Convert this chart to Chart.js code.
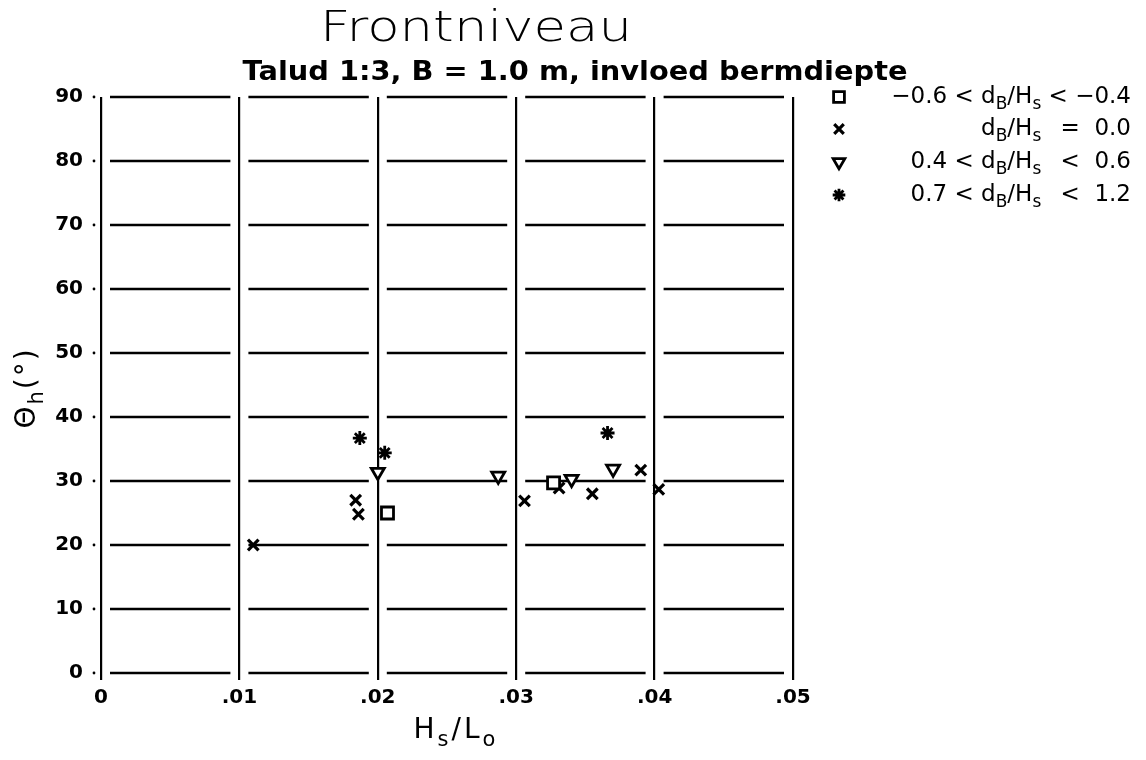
<!DOCTYPE html>
<html>
<head>
<meta charset="utf-8">
<title>Frontniveau</title>
<script src="https://cdn.jsdelivr.net/npm/chart.js@4.4.1/dist/chart.umd.min.js"></script>
<style>
  html, body { margin: 0; padding: 0; background: #fff; }
  canvas { display: block; }
</style>
</head>
<body>
<canvas id="chart" width="1146" height="760"></canvas>
<script>
// measured points, Hs/Lo against wave angle at the front (degrees)
const squareX = [0.0207, 0.0327];
const squareY = [25.0, 29.7];

const crossX = [0.0110, 0.0184, 0.0186, 0.0306, 0.0331, 0.0355, 0.0390, 0.0403];
const crossY = [20.0, 27.0, 24.8, 26.9, 28.9, 28.0, 31.7, 28.7];

const triangleX = [0.0200, 0.0287, 0.0340, 0.0370];
const triangleY = [31.4, 30.8, 30.3, 31.9];

const starX = [0.0187, 0.0205, 0.0366];
const starY = [36.7, 34.4, 37.5];

const xTicks = [0, 0.01, 0.02, 0.03, 0.04, 0.05];
const xTickLabels = ['0', '.01', '.02', '.03', '.04', '.05'];
const yTicks = [0, 10, 20, 30, 40, 50, 60, 70, 80, 90];

function points(xs, ys) {
    return xs.map((x, i) => ({ x: x, y: ys[i] }));
}

const INK = '#000';
const tickFont = { family: '"DejaVu Sans"', size: 20, weight: 'bold' };

// horizontal grid lines, broken around every vertical line
const brokenGrid = {
    id: 'brokenGrid',
    beforeDraw(chart) {
        const ctx = chart.ctx;
        ctx.save();
        ctx.fillStyle = '#fff';
        ctx.fillRect(0, 0, chart.width, chart.height);
        ctx.restore();
    },
    beforeDatasetsDraw(chart) {
        const ctx = chart.ctx;
        const xs = chart.scales.x;
        const ys = chart.scales.y;
        const gap = 9;
        ctx.save();
        ctx.strokeStyle = INK;
        ctx.fillStyle = INK;
        ctx.lineWidth = 2.6;
        yTicks.forEach(v => {
            const py = Math.round(ys.getPixelForValue(v));
            for (let i = 0; i < xTicks.length - 1; i++) {
                const a = xs.getPixelForValue(xTicks[i]) + gap;
                const b = xs.getPixelForValue(xTicks[i + 1]) - gap;
                ctx.beginPath();
                ctx.moveTo(a, py);
                ctx.lineTo(b, py);
                ctx.stroke();
            }
            // little dot between tick label and axis
            ctx.beginPath();
            ctx.arc(ys.right - 7, py, 1.4, 0, Math.PI * 2);
            ctx.fill();
        });
        ctx.restore();
    }
};

// draws a run of text pieces, some of them as subscripts
function drawRich(ctx, parts, x, y, size) {
    let cx = x;
    parts.forEach(p => {
        if (p.sub) {
            ctx.font = Math.round(size * 0.75) + 'px "DejaVu Sans"';
            ctx.fillText(p.t, cx, y + size * 0.34);
        } else {
            ctx.font = size + 'px "DejaVu Sans"';
            ctx.fillText(p.t, cx, y);
        }
        cx += ctx.measureText(p.t).width;
    });
    return cx - x;
}

function richWidth(ctx, parts, size) {
    let w = 0;
    parts.forEach(p => {
        ctx.font = (p.sub ? Math.round(size * 0.75) : size) + 'px "DejaVu Sans"';
        w += ctx.measureText(p.t).width;
    });
    return w;
}

// centred text stretched sideways to a given width
function fitText(ctx, text, font, cx, y, width) {
    ctx.save();
    ctx.font = font;
    const w = ctx.measureText(text).width;
    ctx.translate(cx, y);
    ctx.scale(width / w, 1);
    ctx.textAlign = 'center';
    ctx.fillText(text, 0, 0);
    ctx.restore();
}

const ratio = [{ t: 'd' }, { t: 'B', sub: true }, { t: '/H' }, { t: 's', sub: true }];

const legendRows = [
    { left: '\u22120.6 < ', right: ' < \u22120.4', ds: 0, y: 97 },
    { left: '', right: ' =  0.0', ds: 1, y: 129 },
    { left: '0.4 < ', right: ' <  0.6', ds: 2, y: 162 },
    { left: '0.7 < ', right: ' <  1.2', ds: 3, y: 195 }
];

const titlesAndLegend = {
    id: 'titlesAndLegend',
    afterDraw(chart) {
        const ctx = chart.ctx;
        ctx.save();
        ctx.fillStyle = INK;
        ctx.textBaseline = 'middle';

        fitText(ctx, 'Frontniveau', '200 42px "DejaVu Sans"', 476, 30, 312);
        fitText(ctx, 'Talud 1:3, B = 1.0 m, invloed bermdiepte', 'bold 26px "DejaVu Sans"', 575, 73, 665);

        // legend
        const size = 23;
        const rightEdge = 1131;
        const ratioW = richWidth(ctx, ratio, size);
        ctx.font = size + 'px "DejaVu Sans"';
        const midX = rightEdge - ratioW - ctx.measureText(legendRows[0].right).width;
        legendRows.forEach(row => {
            ctx.textAlign = 'right';
            ctx.font = size + 'px "DejaVu Sans"';
            ctx.fillText(row.left, midX, row.y);
            ctx.textAlign = 'left';
            drawRich(ctx, ratio, midX, row.y, size);
            ctx.textAlign = 'right';
            ctx.font = size + 'px "DejaVu Sans"';
            ctx.fillText(row.right, rightEdge, row.y);

            const ds = chart.data.datasets[row.ds];
            ctx.strokeStyle = INK;
            ctx.fillStyle = ds.pointBackgroundColor;
            ctx.lineWidth = ds.pointBorderWidth;
            Chart.helpers.drawPoint(ctx, {
                pointStyle: ds.pointStyle,
                rotation: ds.pointRotation || 0,
                radius: ds.pointRadius * 0.9,
                borderWidth: ds.pointBorderWidth
            }, 839, row.y);
            ctx.fillStyle = INK;
        });

        // axis titles
        const xParts = [{ t: 'H' }, { t: 's', sub: true }, { t: '/L' }, { t: 'o', sub: true }];
        ctx.textAlign = 'left';
        ctx.letterSpacing = '3px';
        const xw = richWidth(ctx, xParts, 28);
        drawRich(ctx, xParts, 456 - xw / 2, 731, 28);

        const yParts = [{ t: '\u0398' }, { t: 'h', sub: true }, { t: '(\u00b0)' }];
        ctx.letterSpacing = '2px';
        ctx.translate(28, 388);
        ctx.rotate(-Math.PI / 2);
        const yw = richWidth(ctx, yParts, 28);
        drawRich(ctx, yParts, -yw / 2, 0, 28);
        ctx.restore();
    }
};

function series(label, xs, ys, style) {
    return Object.assign({
        label: label,
        data: points(xs, ys),
        borderColor: INK,
        pointBorderColor: INK,
        showLine: false
    }, style);
}

new Chart(document.getElementById('chart'), {
    type: 'scatter',
    data: {
        datasets: [
            series('-0.6 < dB/Hs < -0.4', squareX, squareY, {
                pointStyle: 'rect', pointRadius: 8.5, pointBorderWidth: 2.8,
                pointBackgroundColor: '#fff'
            }),
            series('dB/Hs = 0.0', crossX, crossY, {
                pointStyle: 'crossRot', pointRadius: 7.5, pointBorderWidth: 3.2,
                pointBackgroundColor: INK
            }),
            series('0.4 < dB/Hs < 0.6', triangleX, triangleY, {
                pointStyle: 'triangle', pointRotation: 180, pointRadius: 7.5, pointBorderWidth: 2.8,
                pointBackgroundColor: '#fff'
            }),
            series('0.7 < dB/Hs < 1.2', starX, starY, {
                pointStyle: 'star', pointRadius: 7, pointBorderWidth: 2.8,
                pointBackgroundColor: INK
            })
        ]
    },
    options: {
        responsive: false,
        animation: false,
        layout: {
            padding: { top: 97, right: 353, bottom: 0, left: 0 }
        },
        plugins: {
            legend: { display: false },
            tooltip: { enabled: false }
        },
        scales: {
            x: {
                type: 'linear',
                min: 0,
                max: 0.05,
                afterFit: scale => { scale.height = 87; },
                afterBuildTicks: scale => {
                    scale.ticks = xTicks.map(v => ({ value: v }));
                },
                border: { display: false },
                grid: {
                    color: INK,
                    lineWidth: 2.2,
                    drawTicks: true,
                    tickLength: 7
                },
                ticks: {
                    color: INK,
                    font: tickFont,
                    padding: 6,
                    maxRotation: 0,
                    callback: (v, i) => xTickLabels[i]
                }
            },
            y: {
                min: 0,
                max: 90,
                afterFit: scale => { scale.width = 101; },
                afterBuildTicks: scale => {
                    scale.ticks = yTicks.map(v => ({ value: v }));
                },
                border: { display: false },
                grid: { display: false, drawTicks: false },
                ticks: {
                    color: INK,
                    font: tickFont,
                    padding: 18
                }
            }
        }
    },
    plugins: [brokenGrid, titlesAndLegend]
});
</script>
</body>
</html>
